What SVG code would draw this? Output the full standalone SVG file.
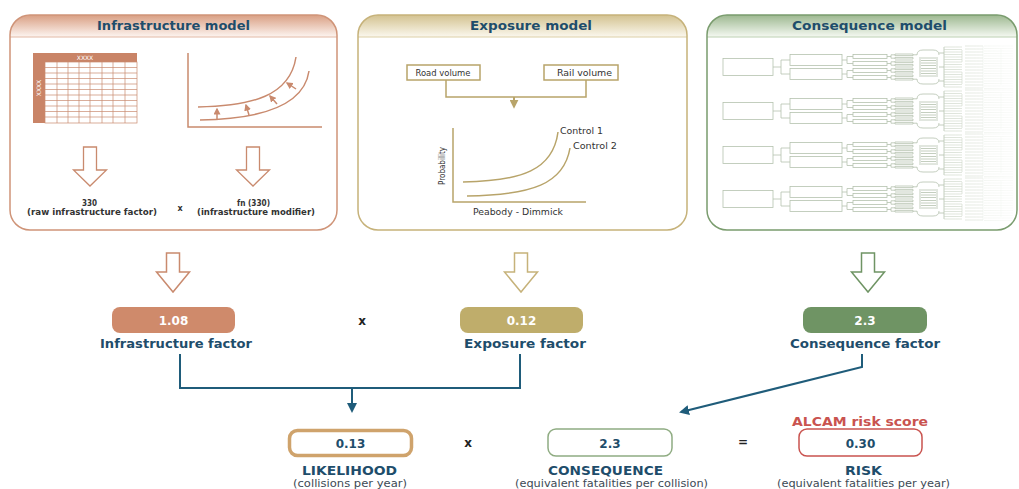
<svg xmlns="http://www.w3.org/2000/svg" width="1019" height="489" viewBox="0 0 1019 489">
<style>
  text{font-family:"DejaVu Sans",Verdana,sans-serif}
  .title{font-weight:bold;font-size:13px;fill:#1e4d6b;text-anchor:middle}
  .lbl{font-weight:bold;font-size:13px;fill:#1e4d6b;text-anchor:middle}
  .val{font-weight:bold;font-size:12px;text-anchor:middle}
  .sub{font-size:11px;fill:#3c4a55;text-anchor:middle}
  .sm{font-size:8.5px;fill:#333;text-anchor:middle}
  .smb{font-weight:bold;font-size:8px;fill:#333;text-anchor:middle}
  .op{font-weight:bold;font-size:12px;fill:#222;text-anchor:middle}
  .conn{fill:none;stroke:#1f5c7a;stroke-width:2}
  .tree{fill:none;stroke:#b5c2ae;stroke-width:0.8}
  .tree2{fill:none;stroke:#c9d3c4;stroke-width:0.6}
  .tree3{fill:none;stroke:#dde4d9;stroke-width:0.5}
  .orl{fill:none;stroke:#c98a6e;stroke-width:1.5}
</style>
<defs>
  <linearGradient id="gInf" x1="0" y1="0" x2="0" y2="1"><stop offset="0" stop-color="#d99f83"/><stop offset="1" stop-color="#fdf5f1"/></linearGradient>
  <linearGradient id="gExp" x1="0" y1="0" x2="0" y2="1"><stop offset="0" stop-color="#d3c290"/><stop offset="1" stop-color="#fbf8ee"/></linearGradient>
  <linearGradient id="gCon" x1="0" y1="0" x2="0" y2="1"><stop offset="0" stop-color="#9db890"/><stop offset="1" stop-color="#f5f9f2"/></linearGradient>
  <linearGradient id="fade" gradientUnits="userSpaceOnUse" x1="955" y1="0" x2="1015" y2="0"><stop offset="0" stop-color="#fff"/><stop offset="1" stop-color="#fff" stop-opacity="0.25"/></linearGradient>
  <mask id="fadeMask" maskUnits="userSpaceOnUse" x="700" y="0" width="319" height="260"><rect x="700" y="0" width="319" height="260" fill="url(#fade)"/></mask>
  <clipPath id="cInf"><rect x="10" y="15" width="327" height="215" rx="20"/></clipPath>
  <clipPath id="cExp"><rect x="358" y="15" width="329" height="215" rx="20"/></clipPath>
  <clipPath id="cCon"><rect x="707" y="15" width="310" height="215" rx="20"/></clipPath>
  <marker id="ah" viewBox="0 0 10 10" refX="8" refY="5" markerUnits="userSpaceOnUse" markerWidth="10" markerHeight="10" orient="auto"><path d="M0,0 L10,5 L0,10 Z" fill="#1f5c7a"/></marker>
  <marker id="ahT" viewBox="0 0 10 10" refX="8" refY="5" markerUnits="userSpaceOnUse" markerWidth="9" markerHeight="9" orient="auto"><path d="M0,0 L10,5 L0,10 Z" fill="#b8a46a"/></marker>
  <marker id="ahO" viewBox="0 0 10 10" refX="8" refY="5" markerUnits="userSpaceOnUse" markerWidth="7" markerHeight="7" orient="auto"><path d="M0,0 L10,5 L0,10 Z" fill="#c98a6e"/></marker>
  <g id="treeUnit">
    <g class="tree">
      <rect x="723" y="-8.5" width="50" height="17"/>
      <path d="M773,0H781 M781,-7V7 M781,-7H790 M781,7H790"/>
      <rect x="790" y="-12.5" width="52" height="11"/>
      <rect x="790" y="1.5" width="52" height="11"/>
      <path d="M842,-7H847 M847,-10.5V-3.5 M847,-10.5H853 M847,-3.5H853 M842,7H847 M847,3.5V10.5 M847,3.5H853 M847,10.5H853"/>
      <rect x="853" y="-12.5" width="34" height="4"/>
      <rect x="853" y="-5.5" width="34" height="4"/>
      <rect x="853" y="1.5" width="34" height="4"/>
      <rect x="853" y="8.5" width="34" height="4"/>
      <path d="M887,-10.5H891 M891,-12.2V-8.8 M891,-12.2H895 M891,-8.8H895 M887,-3.5H891 M891,-5.2V-1.8 M891,-5.2H895 M891,-1.8H895 M887,3.5H891 M891,1.8V5.2 M891,1.8H895 M891,5.2H895 M887,10.5H891 M891,8.8V12.2 M891,8.8H895 M891,12.2H895"/>
      <path d="M895,-13H913V-11.4H895Z M895,-9.6H913V-8H895Z M895,-6H913V-4.4H895Z M895,-2.6H913V-1H895Z M895,1H913V2.6H895Z M895,4.4H913V6H895Z M895,8H913V9.6H895Z M895,11.4H913V13H895Z"/>
      <path d="M913,-12.2H917 M913,12.2H917"/>
      <path d="M917,-12 Q917,-17 923,-17 H933 Q939,-17 939,-12 M917,12 Q917,17 923,17 H933 Q939,17 939,12"/>
      <path d="M921,-9H936 M921,-6.5H936 M921,-4H936 M921,-1.5H936 M921,1.5H936 M921,4H936 M921,6.5H936 M921,9H936 M920,-10V10 M937,-10V10"/>
      <path d="M939,-14H944 M939,14H944 M939,0H944 M944,-20V20"/>
    </g>
    <g class="tree2">
      <path d="M944,-20H962 M944,-17.5H962 M944,-15H962 M944,-12.5H962 M944,-10H962 M944,-7.5H962 M944,-5H962 M944,-2.5H962 M944,0H962 M944,2.5H962 M944,5H962 M944,7.5H962 M944,10H962 M944,12.5H962 M944,15H962 M944,17.5H962 M944,20H962"/>
      <path d="M962,-17V-5 M962,5V17"/>
      <path d="M965,-21H983 M965,-18H983 M965,-15H983 M965,-12H983 M965,-9H983 M965,-6H983 M965,-3H983 M965,0H983 M965,3H983 M965,6H983 M965,9H983 M965,12H983 M965,15H983 M965,18H983 M965,21H983"/>
    </g>
    <g class="tree3">
      <path d="M983,-21V21 M1001,-18V18"/>
      <path d="M984,-21H1013 M984,-18.5H1013 M984,-16H1013 M984,-13.5H1013 M984,-11H1013 M984,-8.5H1013 M984,-6H1013 M984,-3.5H1013 M984,-1H1013 M984,1.5H1013 M984,4H1013 M984,6.5H1013 M984,9H1013 M984,11.5H1013 M984,14H1013 M984,16.5H1013 M984,19H1013 M984,21.5H1013"/>
    </g>
  </g>
</defs>

<rect width="1019" height="489" fill="#fff"/>

<!-- Infrastructure model panel -->
<g id="infrastructure-model">
  <g clip-path="url(#cInf)">
    <rect x="10" y="15" width="327" height="22" fill="url(#gInf)"/>
  </g>
  <line x1="10" y1="37" x2="337" y2="37" stroke="#e2b8a4" stroke-width="1"/>
  <rect x="10" y="15" width="327" height="215" rx="20" fill="none" stroke="#cf9478" stroke-width="1.5"/>
  <text class="title" x="173.5" y="30" textLength="153" lengthAdjust="spacingAndGlyphs">Infrastructure model</text>
  <rect x="33" y="53" width="104" height="9" fill="#c98467"/>
  <rect x="33" y="53" width="12" height="70" fill="#c98467"/>
  <text x="85" y="60" font-size="6" fill="#fff" text-anchor="middle">XXXX</text>
  <text x="0" y="0" font-size="6" fill="#fff" text-anchor="middle" transform="translate(41,88) rotate(-90)">XXXX</text>
  <g fill="none" stroke="#c98a6e" stroke-width="0.7">
    <rect x="45" y="62" width="92" height="61"/>
    <path d="M57,62V123 M68,62V123 M79,62V123 M90,62V123 M102,62V123 M113,62V123 M125,62V123"/>
    <path d="M45,67.5H137 M45,73H137 M45,78.5H137 M45,84H137 M45,89.5H137 M45,95H137 M45,100.5H137 M45,106H137 M45,111.5H137 M45,117H137"/>
  </g>
  <path class="orl" d="M188,53V127H322"/>
  <path class="orl" d="M198,107 C252,106 290,96 296,57"/>
  <path class="orl" d="M200,120 C262,119 304,106 309,71"/>
  <g stroke="#c98a6e" stroke-width="1.5" fill="none">
    <path d="M217,119V109" marker-end="url(#ahO)"/>
    <path d="M249,115L246,105" marker-end="url(#ahO)"/>
    <path d="M277,104L270,96" marker-end="url(#ahO)"/>
    <path d="M296,89L287,83" marker-end="url(#ahO)"/>
  </g>
  <path d="M83.5,147H96.5V170H106.5L90,186L73.5,170H83.5Z" fill="#fff" stroke="#c98a6e" stroke-width="1.3"/>
  <path d="M246.5,147H259.5V170H269.5L253,186L236.5,170H246.5Z" fill="#fff" stroke="#c98a6e" stroke-width="1.3"/>
  <text class="smb" x="89.5" y="206" textLength="15" lengthAdjust="spacingAndGlyphs">330</text>
  <text class="smb" x="92" y="215" textLength="130" lengthAdjust="spacingAndGlyphs">(raw infrastructure factor)</text>
  <text class="smb" x="180" y="211">x</text>
  <text class="smb" x="253.5" y="206" textLength="33" lengthAdjust="spacingAndGlyphs">fn (330)</text>
  <text class="smb" x="256" y="215" textLength="118" lengthAdjust="spacingAndGlyphs">(infrastructure modifier)</text>
</g>

<!-- Exposure model panel -->
<g id="exposure-model">
  <g clip-path="url(#cExp)">
    <rect x="358" y="15" width="329" height="22" fill="url(#gExp)"/>
  </g>
  <line x1="358" y1="37" x2="687" y2="37" stroke="#dccfa6" stroke-width="1"/>
  <rect x="358" y="15" width="329" height="215" rx="20" fill="none" stroke="#c6b27a" stroke-width="1.5"/>
  <text class="title" x="531" y="30" textLength="122" lengthAdjust="spacingAndGlyphs">Exposure model</text>
  <rect x="407" y="65" width="73" height="15" fill="#fff" stroke="#b8a46a" stroke-width="1.5"/>
  <text class="sm" x="443" y="75.5" textLength="55" lengthAdjust="spacingAndGlyphs">Road volume</text>
  <rect x="544" y="65" width="74" height="15" fill="#fff" stroke="#b8a46a" stroke-width="1.5"/>
  <text class="sm" x="584.5" y="75.5" textLength="55" lengthAdjust="spacingAndGlyphs">Rail volume</text>
  <path d="M446,80V97H586V80" fill="none" stroke="#b8a46a" stroke-width="1.5"/>
  <path d="M514,97V107" fill="none" stroke="#b8a46a" stroke-width="2" marker-end="url(#ahT)"/>
  <path d="M453,128V202H586" fill="none" stroke="#b8a46a" stroke-width="1.5"/>
  <path d="M463,182 C522,181 553,170 558,132" fill="none" stroke="#b8a46a" stroke-width="1.5"/>
  <path d="M467,196 C532,195 564,184 570,148" fill="none" stroke="#b8a46a" stroke-width="1.5"/>
  <text x="0" y="0" font-size="8" fill="#333" text-anchor="middle" textLength="38" lengthAdjust="spacingAndGlyphs" transform="translate(445,166) rotate(-90)">Probability</text>
  <text class="sm" x="560" y="134" style="text-anchor:start" textLength="43" lengthAdjust="spacingAndGlyphs">Control 1</text>
  <text class="sm" x="573" y="149" style="text-anchor:start" textLength="44" lengthAdjust="spacingAndGlyphs">Control 2</text>
  <text class="sm" x="518" y="215" textLength="90" lengthAdjust="spacingAndGlyphs">Peabody - Dimmick</text>
</g>

<!-- Consequence model panel -->
<g id="consequence-model">
  <g clip-path="url(#cCon)">
    <rect x="707" y="15" width="310" height="22" fill="url(#gCon)"/>
  </g>
  <line x1="707" y1="37" x2="1017" y2="37" stroke="#bcd0b2" stroke-width="1"/>
  <g clip-path="url(#cCon)" mask="url(#fadeMask)">
    <use href="#treeUnit" transform="translate(0,67)"/>
    <use href="#treeUnit" transform="translate(0,111)"/>
    <use href="#treeUnit" transform="translate(0,155)"/>
    <use href="#treeUnit" transform="translate(0,199)"/>
  </g>
  <rect x="707" y="15" width="310" height="215" rx="20" fill="none" stroke="#7a9c6e" stroke-width="1.5"/>
  <text class="title" x="869.5" y="30" textLength="155" lengthAdjust="spacingAndGlyphs">Consequence model</text>
</g>

<!-- Big hollow arrows -->
<path d="M166.5,253H179.5V272H189.5L173,292L156.5,272H166.5Z" fill="#fff" stroke="#c98a6e" stroke-width="1.5"/>
<path d="M514.5,253H527.5V272H537.5L521,292L504.5,272H514.5Z" fill="#fff" stroke="#c6b27a" stroke-width="1.5"/>
<path d="M861.5,253H874.5V272H884.5L868,292L851.5,272H861.5Z" fill="#fff" stroke="#6f9464" stroke-width="1.5"/>

<!-- Factor nodes -->
<g id="infrastructure-factor">
  <rect x="112" y="307" width="123" height="26" rx="8" fill="#cf8a6b"/>
  <text class="val" x="173.5" y="324.5" fill="#fff">1.08</text>
  <text class="lbl" x="176" y="348" textLength="152" lengthAdjust="spacingAndGlyphs">Infrastructure factor</text>
</g>
<text class="op" x="362" y="325">x</text>
<g id="exposure-factor">
  <rect x="460" y="307" width="123" height="26" rx="8" fill="#bfad6b"/>
  <text class="val" x="521.5" y="324.5" fill="#fff">0.12</text>
  <text class="lbl" x="525" y="348" textLength="122" lengthAdjust="spacingAndGlyphs">Exposure factor</text>
</g>
<g id="consequence-factor">
  <rect x="803" y="307" width="124" height="26" rx="8" fill="#6f9464"/>
  <text class="val" x="865" y="324.5" fill="#fff">2.3</text>
  <text class="lbl" x="865" y="348" textLength="150" lengthAdjust="spacingAndGlyphs">Consequence factor</text>
</g>

<!-- Connectors -->
<g id="connectors">
  <path class="conn" d="M180,354V388H520V354"/>
  <path class="conn" d="M352,388V411" marker-end="url(#ah)"/>
  <path class="conn" d="M862,354V367L681,412" marker-end="url(#ah)"/>
</g>

<!-- Result nodes -->
<g id="likelihood">
  <rect x="289.5" y="430.5" width="122" height="25" rx="8" fill="#fff" stroke="#cfa36c" stroke-width="3.5"/>
  <text class="val" x="350.5" y="447.5" fill="#1e4d6b">0.13</text>
  <text class="lbl" x="349.5" y="475" textLength="95" lengthAdjust="spacingAndGlyphs">LIKELIHOOD</text>
  <text class="sub" x="350" y="487" textLength="114" lengthAdjust="spacingAndGlyphs">(collisions per year)</text>
</g>
<text class="op" x="468" y="447">x</text>
<g id="consequence">
  <rect x="548" y="429" width="124" height="27" rx="8" fill="#fff" stroke="#8fac82" stroke-width="1.5"/>
  <text class="val" x="610" y="447.5" fill="#1e4d6b">2.3</text>
  <text class="lbl" x="605.5" y="475" textLength="115" lengthAdjust="spacingAndGlyphs">CONSEQUENCE</text>
  <text class="sub" x="611.5" y="487" textLength="193" lengthAdjust="spacingAndGlyphs">(equivalent fatalities per collision)</text>
</g>
<text class="op" x="743" y="446">=</text>
<g id="risk">
  <text class="lbl" x="860" y="426" style="fill:#c9534f" textLength="136" lengthAdjust="spacingAndGlyphs">ALCAM risk score</text>
  <rect x="799" y="429" width="123" height="27" rx="8" fill="#fff" stroke="#c9534f" stroke-width="1.5"/>
  <text class="val" x="860.5" y="447.5" fill="#1e4d6b">0.30</text>
  <text class="lbl" x="863.5" y="475" textLength="37" lengthAdjust="spacingAndGlyphs">RISK</text>
  <text class="sub" x="863.5" y="487" textLength="173" lengthAdjust="spacingAndGlyphs">(equivalent fatalities per year)</text>
</g>
</svg>
